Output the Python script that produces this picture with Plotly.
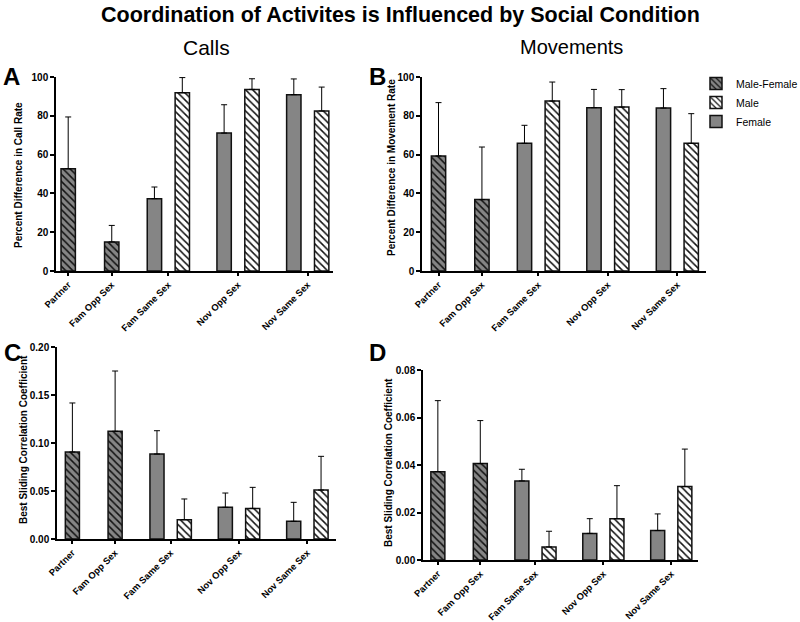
import plotly.graph_objects as go

# ---------------- data ----------------
categories = ["Partner", "Fam Opp Sex", "Fam Same Sex", "Nov Opp Sex", "Nov Same Sex"]
series_names = ["Male-Female", "Male", "Female"]

# Panel A: Calls - percent difference in call rate
calls_mf = [52.7, 15.0]
calls_mf_err = [26.7, 8.5]
calls_female = [37.3, 71.1, 90.9]
calls_female_err = [6.0, 14.6, 8.1]
calls_male = [91.9, 93.6, 82.5]
calls_male_err = [7.8, 5.5, 12.3]

# Panel B: Movements - percent difference in movement rate
moves_mf = [59.3, 36.8]
moves_mf_err = [27.5, 27.1]
moves_female = [65.8, 84.2, 84.0]
moves_female_err = [9.3, 9.4, 10.0]
moves_male = [87.6, 84.5, 65.8]
moves_male_err = [9.8, 9.0, 15.3]

# Panel C: Calls - best sliding correlation coefficient
callcorr_mf = [0.0906, 0.1122]
callcorr_mf_err = [0.0511, 0.0628]
callcorr_female = [0.0885, 0.0330, 0.0184]
callcorr_female_err = [0.0243, 0.0149, 0.0198]
callcorr_male = [0.0201, 0.0319, 0.0510]
callcorr_male_err = [0.0216, 0.0219, 0.0351]

# Panel D: Movements - best sliding correlation coefficient
movecorr_mf = [0.0372, 0.0406]
movecorr_mf_err = [0.0299, 0.0181]
movecorr_female = [0.0333, 0.0112, 0.0124]
movecorr_female_err = [0.0049, 0.0062, 0.0070]
movecorr_male = [0.0055, 0.0174, 0.0309]
movecorr_male_err = [0.0066, 0.0139, 0.0158]

# ---------------- layout helpers ----------------
positions = [0, 1, 2.3, 3.9, 5.5]   # category centres on the x axis
pair_off = 0.32
bar_w = 0.33
FONT = "Liberation Sans, Arial, sans-serif"
GRAY = "#858585"

panels = [
    dict(mf=(calls_mf, calls_mf_err), f=(calls_female, calls_female_err), m=(calls_male, calls_male_err),
         xdom=[56/800, 333/800], ydom=[1-271/622, 1-77/622], xr=[-0.28, 6.08], yr=[0, 100], dtick=20, fmt="d"),
    dict(mf=(moves_mf, moves_mf_err), f=(moves_female, moves_female_err), m=(moves_male, moves_male_err),
         xdom=[422/800, 706/800], ydom=[1-271/622, 1-77/622], xr=[-0.38, 6.16], yr=[0, 100], dtick=20, fmt="d"),
    dict(mf=(callcorr_mf, callcorr_mf_err), f=(callcorr_female, callcorr_female_err), m=(callcorr_male, callcorr_male_err),
         xdom=[57/800, 336/800], ydom=[1-539/622, 1-347/622], xr=[-0.36, 6.17], yr=[0, 0.2], dtick=0.05, fmt=".2f"),
    dict(mf=(movecorr_mf, movecorr_mf_err), f=(movecorr_female, movecorr_female_err), m=(movecorr_male, movecorr_male_err),
         xdom=[423/800, 698/800], ydom=[1-560/622, 1-370/622], xr=[-0.35, 6.13], yr=[0, 0.08], dtick=0.02, fmt=".2f"),
]

fig = go.Figure()

def err(arr):
    return dict(type="data", symmetric=False, array=arr, arrayminus=[0]*len(arr),
                color="black", thickness=1, width=3)

for i, p in enumerate(panels):
    xa = "x" if i == 0 else f"x{i+1}"
    ya = "y" if i == 0 else f"y{i+1}"
    first = (i == 0)
    mf_x = positions[:2]
    f_x = [c - pair_off for c in positions[2:]]
    m_x = [c + pair_off for c in positions[2:]]
    fig.add_trace(go.Bar(
        x=mf_x, y=p["mf"][0], error_y=err(p["mf"][1]), width=bar_w,
        name=series_names[0], legendgroup="mf", showlegend=first,
        marker=dict(color=GRAY, line=dict(color="#111", width=1.5),
                    pattern=dict(shape="\\", fgcolor="#111", bgcolor=GRAY, size=5, solidity=0.3)),
        xaxis=xa, yaxis=ya))
    fig.add_trace(go.Bar(
        x=m_x, y=p["m"][0], error_y=err(p["m"][1]), width=bar_w,
        name=series_names[1], legendgroup="m", showlegend=first,
        marker=dict(color="white", line=dict(color="#111", width=1.5),
                    pattern=dict(shape="\\", fgcolor="#111", bgcolor="white", size=5, solidity=0.3)),
        xaxis=xa, yaxis=ya))
    fig.add_trace(go.Bar(
        x=f_x, y=p["f"][0], error_y=err(p["f"][1]), width=bar_w,
        name=series_names[2], legendgroup="f", showlegend=first,
        marker=dict(color=GRAY, line=dict(color="#111", width=1.5)),
        xaxis=xa, yaxis=ya))

layout = dict(
    width=800, height=622,
    template="none",
    margin=dict(l=0, r=0, t=0, b=0, autoexpand=False),
    paper_bgcolor="white", plot_bgcolor="white",
    barmode="overlay",
    font=dict(family=FONT, color="black"),
    legend=dict(x=696/800, y=1-69/622, xanchor="left", yanchor="top",
                font=dict(size=10.5, family=FONT), traceorder="normal",
                bgcolor="rgba(0,0,0,0)", tracegroupgap=5),
)

for i, p in enumerate(panels):
    xk = "xaxis" if i == 0 else f"xaxis{i+1}"
    yk = "yaxis" if i == 0 else f"yaxis{i+1}"
    xa = "x" if i == 0 else f"x{i+1}"
    ya = "y" if i == 0 else f"y{i+1}"
    layout[xk] = dict(domain=p["xdom"], anchor=ya, range=p["xr"], tickvals=positions, ticktext=categories,
                      tickangle=-45, showline=True, linecolor="black", linewidth=1.5, ticks="outside",
                      ticklen=3, tickwidth=1.5, tickcolor="black", showgrid=False, zeroline=False,
                      automargin=False, tickfont=dict(size=9.3, family=FONT, weight="bold"))
    layout[yk] = dict(domain=p["ydom"], anchor=xa, range=p["yr"], dtick=p["dtick"], tickformat=p["fmt"],
                      showline=True, linecolor="black", linewidth=1.5, ticks="outside", ticklen=4,
                      tickwidth=1.5, tickcolor="black", showgrid=False, zeroline=False,
                      automargin=False, tickfont=dict(size=10, family=FONT, weight="bold"))

fig.update_layout(**layout)

annotations = [
    dict(text="<b>Coordination of Activites is Influenced by Social Condition</b>", x=0.5, y=1-15/622, size=21.5),
    dict(text="Calls", x=206/800, y=1-47/622, size=21),
    dict(text="Movements", x=571/800, y=1-47/622, size=20),
    dict(text="<b>A</b>", x=11/800, y=1-76/622, size=24),
    dict(text="<b>B</b>", x=377/800, y=1-76/622, size=24),
    dict(text="<b>C</b>", x=12/800, y=1-352/622, size=24),
    dict(text="<b>D</b>", x=377/800, y=1-352/622, size=24),
    dict(text="<b>Percent Difference in Call Rate</b>", x=19/800, y=1-175/622, size=10, angle=-90),
    dict(text="<b>Percent Difference in Movement Rate</b>", x=392/800, y=1-168/622, size=10, angle=-90),
    dict(text="<b>Best Sliding Correlation Coefficient</b>", x=23/800, y=1-440/622, size=10, angle=-90),
    dict(text="<b>Best Sliding Correlation Coefficient</b>", x=388/800, y=1-463/622, size=10, angle=-90),
]
for a in annotations:
    fig.add_annotation(text=a["text"], x=a["x"], y=a["y"], xref="paper", yref="paper",
                       xanchor="center", yanchor="middle", showarrow=False,
                       textangle=a.get("angle", 0), font=dict(size=a["size"], family=FONT, color="black"))

# remove the default 8px page margin so the figure sits at the window's top-left corner
fig.write_html("out.html", config={"displayModeBar": False},
               post_script="document.body.style.margin='0px';document.body.style.overflow='hidden';")
